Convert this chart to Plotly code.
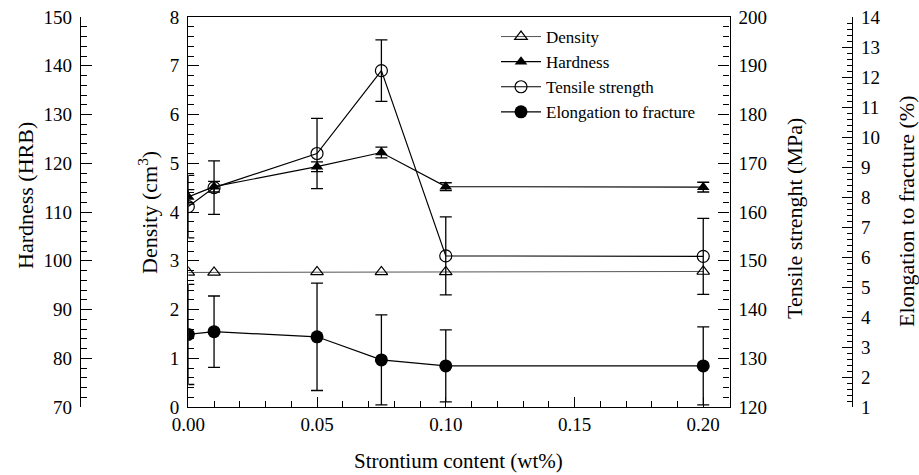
import plotly.graph_objects as go

# ---- data ----
sr_content = [0.0, 0.01, 0.05, 0.075, 0.10, 0.20]

density = [2.76, 2.76, 2.77, 2.77, 2.77, 2.78]

hardness = [113.1, 115.2, 119.3, 122.2, 115.2, 115.1]
hardness_err = [1.5, 1.1, 1.0, 1.1, 0.8, 1.0]

tensile = [161.1, 165.0, 172.0, 189.0, 151.0, 150.9]
tensile_err = [6.4, 5.5, 7.2, 6.3, 8.0, 7.8]

elongation = [3.42, 3.51, 3.34, 2.57, 2.37, 2.37]
elongation_err = [1.67, 1.19, 1.79, 1.50, 1.20, 1.30]

x_tickvals = [0.0, 0.05, 0.10, 0.15, 0.20]
x_ticktext = ["0.00", "0.05", "0.10", "0.15", "0.20"]

FONT = "Liberation Serif"
TICKFONT = dict(family=FONT, size=19, color="black")
TITLEFONT = dict(family=FONT, size=22, color="black")

W, H = 919, 475
ML, MR, MT, MB = 80, 67, 17, 68
PW = W - ML - MR
PH = H - MT - MB


def px(xp):
    return (xp - ML) / PW


def py(yp):
    return (H - MB - yp) / PH


fig = go.Figure()

fig.add_trace(go.Scatter(
    x=sr_content, y=density, name="Density", mode="lines+markers",
    line=dict(color="#555555", width=1),
    marker=dict(symbol="triangle-up-open", size=11, color="black", line=dict(width=1.2, color="black")),
    yaxis="y",
))
fig.add_trace(go.Scatter(
    x=sr_content, y=hardness, name="Hardness", mode="lines+markers",
    line=dict(color="black", width=1.2),
    marker=dict(symbol="triangle-up", size=11, color="black"),
    error_y=dict(type="data", array=hardness_err, color="black", thickness=1.3, width=6),
    yaxis="y2",
))
fig.add_trace(go.Scatter(
    x=sr_content, y=tensile, name="Tensile strength", mode="lines+markers",
    line=dict(color="black", width=1.2),
    marker=dict(symbol="circle-open", size=12, color="black", line=dict(width=1.2, color="black")),
    error_y=dict(type="data", array=tensile_err, color="black", thickness=1.3, width=6),
    yaxis="y3",
))
fig.add_trace(go.Scatter(
    x=sr_content, y=elongation, name="Elongation to fracture", mode="lines+markers",
    line=dict(color="black", width=1.2),
    marker=dict(symbol="circle", size=13, color="black"),
    error_y=dict(type="data", array=elongation_err, color="black", thickness=1.3, width=6),
    yaxis="y4",
))

common_y = dict(
    showgrid=False, zeroline=False, showline=True, linecolor="black", linewidth=1.3,
    ticks="inside", ticklen=11, tickwidth=1.3, tickcolor="black", tickfont=TICKFONT,
    automargin=False, ticklabelstandoff=4,
)

fig.update_layout(
    width=W, height=H,
    margin=dict(l=ML, r=MR, t=MT, b=MB, autoexpand=False),
    paper_bgcolor="white", plot_bgcolor="white",
    font=dict(family=FONT, color="black"),
    showlegend=True,
    legend=dict(
        x=px(496), y=py(19), xanchor="left", yanchor="top",
        font=dict(family=FONT, size=17, color="black"),
        itemwidth=40,
        bgcolor="rgba(0,0,0,0)", borderwidth=0,
    ),
    xaxis=dict(
        domain=[px(188.3), px(729.5)], range=[0, 0.2102],
        tickvals=x_tickvals, ticktext=x_ticktext, automargin=False,
        showgrid=False, zeroline=False, showline=True, linecolor="black", linewidth=1.3,
        mirror=True, ticks="inside", ticklen=10, tickwidth=1.3, tickcolor="black",
        tickfont=TICKFONT,
        minor=dict(dtick=0.01, ticks="inside", ticklen=6, tickcolor="black", tickwidth=1.2),
    ),
    yaxis=dict(
        range=[0, 8], dtick=1, anchor="x", side="left",
        minor=dict(dtick=0.2, ticks="inside", ticklen=6, tickcolor="black", tickwidth=1.2),
        **common_y,
    ),
    yaxis2=dict(
        range=[70, 150], dtick=10, overlaying="y", anchor="free", position=0, side="left",
        minor=dict(dtick=2, ticks="inside", ticklen=6, tickcolor="black", tickwidth=1.2),
        **common_y,
    ),
    yaxis3=dict(
        range=[120, 200], dtick=10, overlaying="y", anchor="x", side="right",
        minor=dict(dtick=2, ticks="inside", ticklen=6, tickcolor="black", tickwidth=1.2),
        **common_y,
    ),
    yaxis4=dict(
        range=[1, 14], dtick=1, overlaying="y", anchor="free", position=1, side="right",
        minor=dict(dtick=0.2, ticks="inside", ticklen=5, tickcolor="black", tickwidth=1.2),
        **{**common_y, "ticklen": 10},
    ),
    annotations=[
        dict(text="Hardness (HRB)", x=px(25), y=py(196), xref="paper", yref="paper",
             textangle=-90, showarrow=False, font=TITLEFONT, xanchor="center", yanchor="middle"),
        dict(text="Density (cm<sup>3</sup>)", x=px(148), y=py(213), xref="paper", yref="paper",
             textangle=-90, showarrow=False, font=TITLEFONT, xanchor="center", yanchor="middle"),
        dict(text="Tensile strenght (MPa)", x=px(795), y=py(219), xref="paper", yref="paper",
             textangle=-90, showarrow=False, font=TITLEFONT, xanchor="center", yanchor="middle"),
        dict(text="Elongation to fracture (%)", x=px(906), y=py(211), xref="paper", yref="paper",
             textangle=-90, showarrow=False, font=TITLEFONT, xanchor="center", yanchor="middle"),
        dict(text="Strontium content (wt%)", x=px(458), y=py(461), xref="paper", yref="paper",
             showarrow=False, font=dict(family=FONT, size=21, color="black"),
             xanchor="center", yanchor="middle"),
    ],
)

fig.write_html(
    "out.html",
    config={"displayModeBar": False},
    post_script="document.body.style.margin='0';document.body.style.overflow='hidden';",
)
